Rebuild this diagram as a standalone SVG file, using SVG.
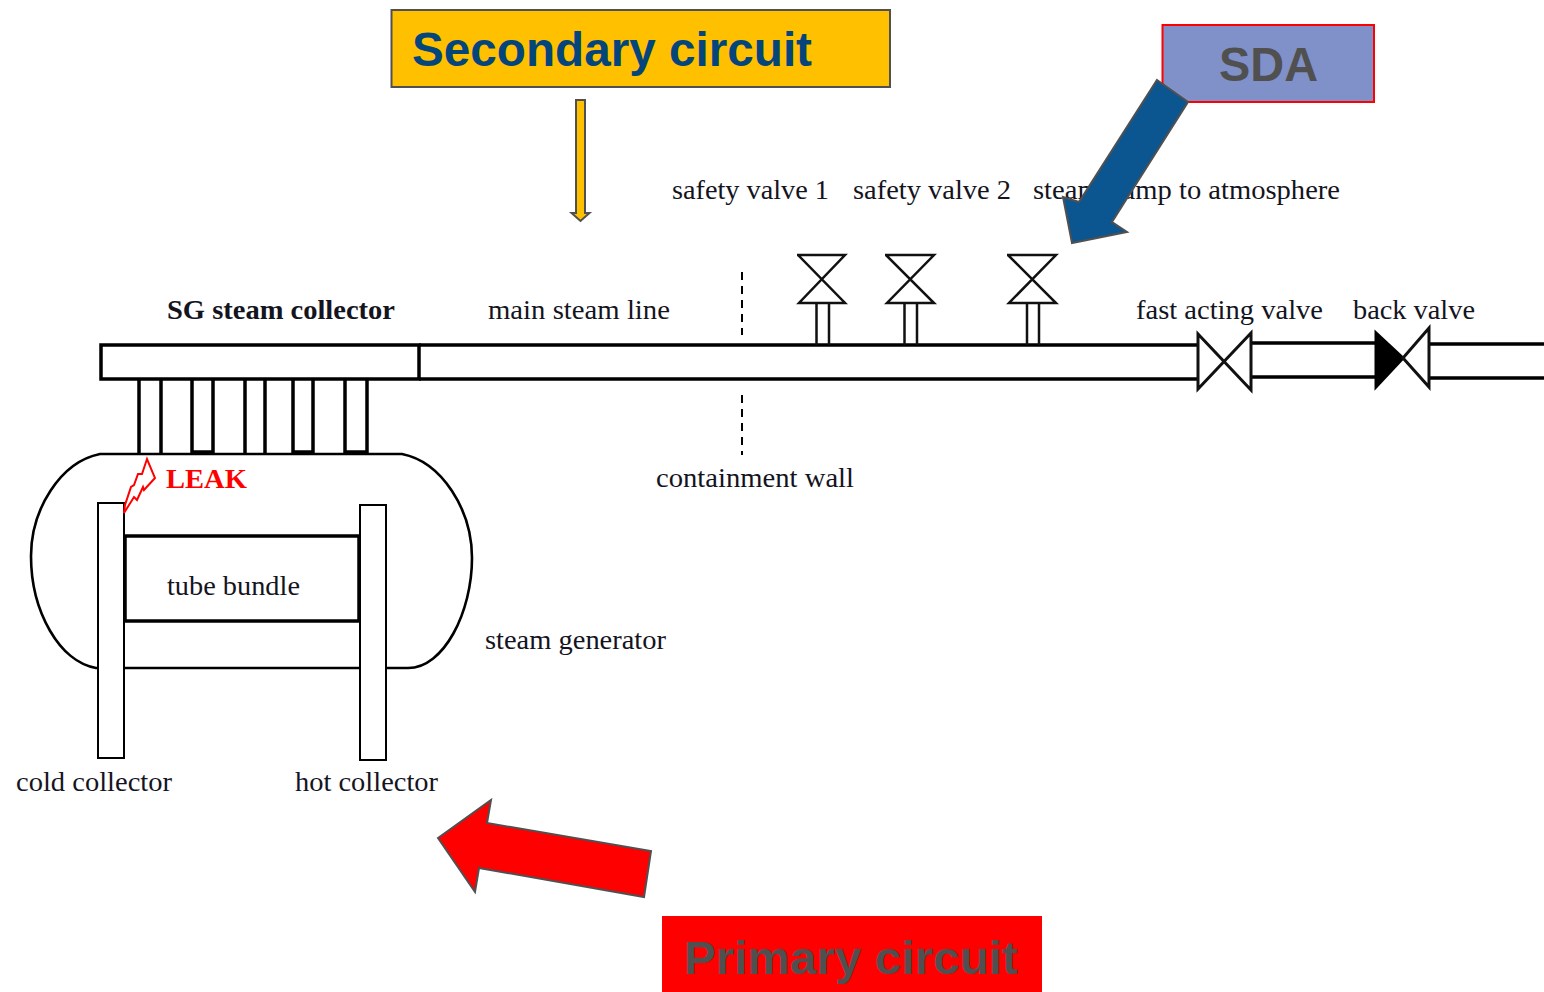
<svg xmlns="http://www.w3.org/2000/svg" width="1544" height="992" viewBox="0 0 1544 992">
<style>
.t{font-family:"Liberation Serif","Times New Roman",serif;font-size:28px;fill:#14141e}
.b{font-weight:bold}
.h{font-family:"Liberation Sans",Arial,sans-serif;font-weight:bold}
.l{fill:none;stroke:#000;stroke-width:3.5}
.m{fill:#fff;stroke:#000;stroke-width:2}
.v{fill:#fff;stroke:#111;stroke-width:2.5}
.a{stroke:#505050;stroke-width:2}
</style>
<rect width="1544" height="992" fill="#fff"/>
<g id="steam-generator">
<path d="M100 454H402C442 462 472 510 472 558C472 612 444 668 408 668H96C60 662 31 612 31 556C31 510 60 462 100 454Z" fill="#fff" stroke="#000" stroke-width="2.6"/>
<rect x="125" y="536" width="234" height="85" fill="#fff" stroke="#000" stroke-width="3.5"/>
<rect class="m" x="98" y="503" width="26" height="255"/>
<rect class="m" x="360" y="505" width="26" height="255"/>
<text class="t" x="167" y="595" textLength="133" lengthAdjust="spacingAndGlyphs">tube bundle</text>
</g>
<g id="sg-steam-collector">
<rect x="101" y="345" width="318" height="34" fill="#fff" stroke="#000" stroke-width="3.5"/>
<path class="l" d="M139 380V454M161 380V454M192 380V454M213 380V454M245 380V454M265 380V454M293 380V454M313 380V454M345 380V454M367 380V454"/>
<path class="l" d="M192 452H213M293 452H313M345 452H367"/>
<text class="t b" x="167" y="319" textLength="228" lengthAdjust="spacingAndGlyphs">SG steam collector</text>
</g>
<g id="main-steam-line">
<path class="l" d="M419 345H1197M419 379H1197"/>
<path d="M742 272V335M742 395V455" fill="none" stroke="#000" stroke-width="2" stroke-dasharray="8 6"/>
<path class="l" d="M1251 343H1376M1251 377H1376M1430 344H1544M1430 378H1544"/>
<text class="t" x="488" y="319" textLength="182" lengthAdjust="spacingAndGlyphs">main steam line</text>
<text class="t" x="656" y="487" textLength="198" lengthAdjust="spacingAndGlyphs">containment wall</text>
</g>
<g id="safety-valve-1">
<path class="v" d="M797 255H845L799 303H845L798 255Z"/>
<path class="v" d="M816.500 303V345M829 303V345"/>
<text class="t" x="672" y="199" textLength="157" lengthAdjust="spacingAndGlyphs">safety valve 1</text>
</g>
<g id="safety-valve-2">
<path class="v" d="M885 255H934L887 303H934L886 255Z"/>
<path class="v" d="M904.500 303V345M917 303V345"/>
<text class="t" x="853" y="199" textLength="158" lengthAdjust="spacingAndGlyphs">safety valve 2</text>
</g>
<g id="steam-dump">
<path class="v" d="M1007 255H1056L1009 303H1056L1008 255Z"/>
<path class="v" d="M1027 303V345M1039 303V345"/>
<text class="t" x="1033" y="199" textLength="307" lengthAdjust="spacingAndGlyphs">steam dump to atmosphere</text>
</g>
<g id="fast-acting-valve">
<path d="M1198 334V389L1251 333V390Z" fill="#fff" stroke="#111" stroke-width="3"/>
<text class="t" x="1136" y="319" textLength="187" lengthAdjust="spacingAndGlyphs">fast acting valve</text>
</g>
<g id="back-valve">
<path d="M1376 333V387L1403 358Z" fill="#000" stroke="#000" stroke-width="3"/>
<path d="M1403 358L1429 328V387Z" fill="#fff" stroke="#111" stroke-width="3"/>
<text class="t" x="1353" y="319" textLength="122" lengthAdjust="spacingAndGlyphs">back valve</text>
</g>
<g id="leak">
<path d="M124 513L125 505L131 487L134 485L138 474L142 474L147 459L155 478L144 490L143 487L137 500L134 497Z" fill="#fff" stroke="#f00" stroke-width="2"/>
<text class="t b" x="166" y="488" style="fill:#f00" textLength="81" lengthAdjust="spacingAndGlyphs">LEAK</text>
</g>
<text class="t" x="485" y="649" textLength="181" lengthAdjust="spacingAndGlyphs">steam generator</text>
<text class="t" x="16" y="791" textLength="156" lengthAdjust="spacingAndGlyphs">cold collector</text>
<text class="t" x="295" y="791" textLength="143" lengthAdjust="spacingAndGlyphs">hot collector</text>
<g id="secondary-circuit">
<rect x="391.500" y="10" width="498.500" height="77" fill="#ffc000" stroke="#505050" stroke-width="2"/>
<text class="h" x="412" y="66" font-size="48" fill="#04457c" textLength="400" lengthAdjust="spacingAndGlyphs">Secondary circuit</text>
</g>
<g id="sda">
<rect x="1162.500" y="25" width="211.500" height="77" fill="#7f91c8" stroke="#f00" stroke-width="2"/>
<text class="h" x="1219" y="81" font-size="48" fill="#505050" textLength="99" lengthAdjust="spacingAndGlyphs">SDA</text>
</g>
<g id="primary-circuit">
<rect x="662" y="916" width="380" height="76" fill="#f00"/>
<text class="h" x="684" y="974" font-size="47" fill="#505050" textLength="334" lengthAdjust="spacingAndGlyphs">Primary circuit</text>
</g>
<g id="connectors">
<path class="a" d="M576 100H585V213H589.500L580.500 221L571.500 213H576Z" fill="#ffc000"/>
<path class="a" d="M1157 80L1188 102L1112 222L1127 232L1072 243L1063 197L1079 202Z" fill="#0b5590"/>
<path class="a" d="M438 838L491 800L487 823L651 851L644 897L479 868L475 892Z" fill="#f00"/>
</g>
</svg>
